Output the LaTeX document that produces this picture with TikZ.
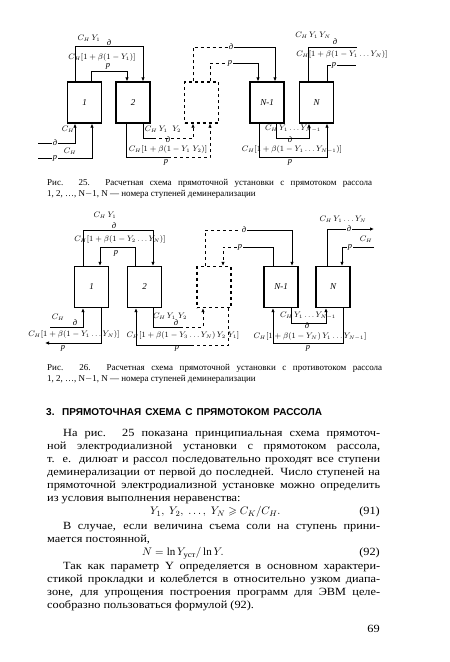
\documentclass[tikz,border=0pt]{standalone}
\usepackage{amsmath}
\usepackage{amssymb}
\usepackage{fontspec}
\setmainfont{Liberation Serif}
\newfontfamily\bodyfont[FakeStretch=1.12]{Liberation Serif}
\newfontfamily\headfont{Liberation Sans}
\usetikzlibrary{arrows.meta}

\tikzset{
  stage/.style={draw, line width=1.3pt, minimum width=34pt, minimum height=41pt,
    inner sep=0pt, font=\fontsize{9}{9}\selectfont\itshape},
  ghost/.style={stage, dashed},
  flow/.style={line width=1pt},
  into/.style={flow, -{Latex[length=4pt,width=3.5pt]}},
  lbl/.style={font=\fontsize{7.8}{8}\selectfont, inner sep=0.5pt},
  tag/.style={font=\fontsize{8.5}{8}\selectfont\itshape, inner sep=0.8pt},
  tagw/.style={tag, fill=white},
  txt/.style={anchor=west, inner sep=0pt, font=\bodyfont\fontsize{11}{13}\selectfont,
    text height=8pt, text depth=2.5pt},
  captext/.style={txt, font=\fontsize{9}{10}\selectfont}
}

\begin{document}
\begin{tikzpicture}[x=1pt,y=-1pt]
\useasboundingbox[fill=white] (0,0) rectangle (450,662);

% --- fig. 25
\node[stage] (a1) at (84.5,102.5) {1};
\node[stage] (a2) at (133,102.5) {2};
\node[ghost] (a3) at (201.5,102.5) {};
\node[stage] (a4) at (267,102.5) {N-1};
\node[stage] (a5) at (316.5,102.5) {N};

\draw[into] ([xshift=-9.5pt]a1.north) -- ++(0,-35) -| ([xshift=10pt]a2.north);
\draw[into] ([xshift=6.5pt]a1.north) -- ++(0,-10) -| ([xshift=-6pt]a2.north);
\node[lbl] (la1) at (89,38) {$C_H\,Y_1$};
\node[tag] (da1) at (109,43) {д};
\node[lbl] (lb1) at (102,57) {$C_H[1+\beta(1-Y_1)]$};
\node[tag] (pa1) at (108,66) {р};

\coordinate (dIn) at (38,143);
\coordinate (pIn) at (38,158);
\draw[into] (dIn) -| ([xshift=-9.5pt]a1.south);
\draw[into] (pIn) -| ([xshift=7.5pt]a1.south);
\node[tagw] (da0) at (55,143) {д};
\node[tagw] (pa0) at (55,158) {р};
\node[lbl] (lc1) at (68,129) {$C_H$};
\node[lbl] (lc2) at (70,151) {$C_H$};

\draw[flow] ([xshift=-7pt]a2.south) -- ++(0,34) coordinate (q1) -- ++(42,0) coordinate (q2);
\draw[into,dashed] (q2) -| ([xshift=8.5pt]a3.south);
\draw[flow] ([xshift=10pt]a2.south) -- ++(0,15) coordinate (q3) -- ++(10,0) coordinate (q4);
\draw[into,dashed] (q4) -| ([xshift=-8.5pt]a3.south);
\node[lbl] (la2) at (163,129) {$C_H\,Y_1\;\;Y_2$};
\node[tag] (da2) at (168,139.5) {д};
\node[lbl] (lb2) at (168,149.5) {$C_H[1+\beta(1-Y_1\;Y_2)]$};
\node[tag] (pa2) at (166,162) {р};

\node[tagw] (da3) at (231,47) {д};
\node[tagw] (pa3) at (230,63) {р};
\draw[flow,dashed] ([xshift=-8.5pt]a3.north) |- (da3);
\draw[into] (da3) -| ([xshift=8pt]a4.north);
\draw[flow,dashed] ([xshift=8.5pt]a3.north) |- (pa3);
\draw[into] (pa3) -| ([xshift=-9pt]a4.north);

\draw[into] ([xshift=-8pt]a4.south) -- ++(0,34) -| ([xshift=10.5pt]a5.south);
\draw[into] ([xshift=9pt]a4.south) -- ++(0,15) -| ([xshift=-7.5pt]a5.south);
\node[lbl] (la4) at (293,129) {$C_H\,Y_1\ldots Y_{N-1}$};
\node[tag] (da4) at (290,139.5) {д};
\node[lbl] (lb4) at (292,149.5) {$C_H[1+\beta(1-Y_1\ldots Y_{N-1})]$};
\node[tag] (pa4) at (290,162) {р};

\coordinate (dOut) at (357,47);
\coordinate (pOut) at (356,65);
\draw[flow] ([xshift=-8.5pt]a5.north) |- (dOut);
\draw[flow] ([xshift=10.5pt]a5.north) |- (pOut);
\node[lbl] (la5) at (313,35) {$C_H\,Y_1\,Y_N$};
\node[tag] (da5) at (335,42) {д};
\node[lbl] (lb5) at (342,54.5) {$C_H[1+\beta(1-Y_1\ldots Y_N)]$};
\node[tagw] (pa5) at (334,65.5) {р};

\node[captext] (c1a) at (47,183) {\makebox[325pt][s]{Рис. 25. Расчетная схема прямоточной установки с прямотоком рассола}};
\node[captext] (c1b) at (47,194) {1, 2, \dots, N$-$1, N — номера ступеней деминерализации};

% --- fig. 26
\node[stage] (b1) at (91.5,287) {1};
\node[stage] (b2) at (144.5,287) {2};
\node[ghost] (b3) at (214,287) {};
\node[stage] (b4) at (281,287) {N-1};
\node[stage] (b5) at (333,287) {N};

\draw[into] ([xshift=-8.5pt]b1.north) -- ++(0,-35.5) -| ([xshift=8.5pt]b2.north);
\draw[into] ([xshift=-9.5pt]b2.north) -- ++(0,-18.5) -| ([xshift=8.5pt]b1.north);
\node[lbl] (lf1) at (105,215) {$C_H\,Y_1$};
\node[tag] (df1) at (114,226) {д};
\node[lbl] (lg1) at (120,239) {$C_H[1+\beta(1-Y_2\ldots Y_N)]$};
\node[tag] (pf1) at (116,253) {р};

\coordinate (dIn2) at (50,327);
\coordinate (pOut2) at (45,343);
\draw[into] (dIn2) -| ([xshift=-8.5pt]b1.south);
\draw[into] ([xshift=9.5pt]b1.south) |- (pOut2);
\node[lbl] (lf0) at (58,317) {$C_H$};
\node[tag] (df0) at (75,323) {д};
\node[lbl] (lg0) at (74,334.5) {$C_H[1+\beta(1-Y_1\ldots Y_N)]$};
\node[tag] (pf0) at (63,348) {р};

\draw[flow,dashed] ([xshift=14pt]b3.south) -- ++(0,37.5) coordinate (r1) -- ++(-36,0) coordinate (r2);
\draw[into] (r2) -| ([xshift=-8.5pt]b2.south);
\draw[flow] ([xshift=8.5pt]b2.south) -- ++(0,19) coordinate (r3) -- ++(27,0) coordinate (r4);
\draw[into,dashed] (r4) -| ([xshift=-11pt]b3.south);
\node[lbl] (lf2) at (170,316) {$C_H\,Y_1\;Y_2$};
\node[tag] (df2) at (176,323) {д};
\node[lbl] (lg2) at (183,335.5) {$C_H[1+\beta(1-Y_3\ldots Y_N)\,Y_2\;Y_1]$};
\node[tag] (pf2) at (177,348) {р};

\node[tagw] (df3) at (244,230) {д};
\node[tagw] (pf3) at (240,247) {р};
\draw[flow,dashed] ([xshift=-9pt]b3.north) |- (df3);
\draw[into] (df3) -| ([xshift=11pt]b4.north);
\draw[flow] ([xshift=-8pt]b4.north) |- (pf3);
\draw[into,dashed] (pf3) -| ([xshift=9pt]b3.north);

\draw[into] ([xshift=10pt]b5.south) -- ++(0,35.5) -| ([xshift=-8pt]b4.south);
\draw[into] ([xshift=10pt]b4.south) -- ++(0,15) -| ([xshift=-7pt]b5.south);
\node[lbl] (lf4) at (308,315.5) {$C_H\,Y_1\ldots Y_{N-1}$};
\node[tag] (df4) at (307,326) {д};
\node[lbl] (lg4) at (310,336) {$C_H[1+\beta(1-Y_N)\,Y_1\ldots Y_{N-1}]$};
\node[tag] (pf4) at (308,348) {р};

\coordinate (dOut2) at (374,229);
\coordinate (pIn2) at (374,247);
\draw[into] ([xshift=-6pt]b5.north) |- (dOut2);
\draw[into] (pIn2) -| ([xshift=9pt]b5.north);
\node[lbl] (lf5) at (343,219) {$C_H\,Y_1\ldots Y_N$};
\node[tagw] (df5) at (349,229) {д};
\node[lbl] (lc5) at (366,239) {$C_H$};
\node[tagw] (pf5) at (350,247) {р};

\node[captext] (c2a) at (47,368) {\makebox[335pt][s]{Рис. 26. Расчетная схема прямоточной установки с противотоком рассола}};
\node[captext] (c2b) at (47,379) {1, 2, \dots, N$-$1, N — номера ступеней деминерализации};

% --- text
\node[txt, font=\headfont\bfseries\fontsize{10}{11}\selectfont] (hd) at (46,413)
  {\makebox[276pt][s]{3. ПРЯМОТОЧНАЯ СХЕМА С ПРЯМОТОКОМ РАССОЛА}};
\node[txt] (t1) at (63,434) {\makebox[317pt][s]{На рис. 25 показана принципиальная схема прямоточ-}};
\node[txt] (t2) at (47,447) {\makebox[333pt][s]{ной электродиализной установки с прямотоком рассола,}};
\node[txt] (t3) at (47,460) {\makebox[333pt][s]{т. е. дилюат и рассол последовательно проходят все ступени}};
\node[txt] (t4) at (47,473) {\makebox[333pt][s]{деминерализации от первой до последней. Число ступеней на}};
\node[txt] (t5) at (47,486) {\makebox[333pt][s]{прямоточной электродиализной установке можно определить}};
\node[txt] (t6) at (47,499) {из условия выполнения неравенства:};
\node[txt] (f1) at (150,512) {$Y_1,\ Y_2,\ \ldots,\ Y_N\geqslant C_K/C_H.$};
\node[txt, anchor=east] (n1) at (380,512) {(91)};
\node[txt] (t7) at (63,527) {\makebox[317pt][s]{В случае, если величина съема соли на ступень прини-}};
\node[txt] (t8) at (47,540) {мается постоянной,};
\node[txt] (f2) at (142,553) {$N=\ln Y_{\text{уст}}/\ln Y.$};
\node[txt, anchor=east] (n2) at (380,553) {(92)};
\node[txt] (t9) at (63,567) {\makebox[317pt][s]{Так как параметр Y определяется в основном характери-}};
\node[txt] (t10) at (47,580) {\makebox[333pt][s]{стикой прокладки и колеблется в относительно узком диапа-}};
\node[txt] (t11) at (47,593) {\makebox[333pt][s]{зоне, для упрощения построения программ для ЭВМ целе-}};
\node[txt] (t12) at (47,606) {сообразно пользоваться формулой (92).};
\node[txt, anchor=east] (pg) at (380,630) {69};
\end{tikzpicture}
\end{document}
